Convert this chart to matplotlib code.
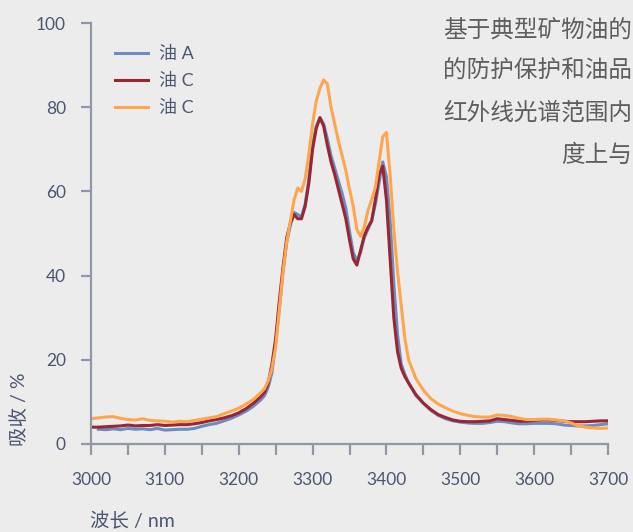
import numpy as np
import matplotlib
matplotlib.use("Agg")
import matplotlib.pyplot as plt

wavelength = [3000,3010,3020,3030,3040,3050,3060,3070,3080,3090,3100,3110,3120,3130,3140,3150,3160,3170,3180,3190,
              3200,3210,3220,3230,3235,3240,3245,3250,3255,3260,3265,3270,3275,3280,3285,3290,3295,3300,3305,3310,
              3315,3320,3325,3330,3335,3340,3345,3350,3355,3360,3365,3370,3375,3380,3385,3390,3395,3400,3405,3410,
              3415,3420,3425,3430,3440,3450,3460,3470,3480,3490,3500,3510,3520,3530,3540,3550,3560,3570,3580,3590,
              3600,3610,3620,3630,3640,3650,3660,3670,3680,3690,3700]

oil_a = [np.nan,3.5,3.4,3.6,3.4,3.7,3.5,3.6,3.4,3.7,3.3,3.4,3.5,3.5,3.7,4.2,4.6,4.9,5.5,6.1,
         6.9,7.8,9.0,10.5,11.5,13.5,17,24,32,41,48,52,55,54.5,54,57,63,71,75.5,77.5,
         76,72.5,68.5,65.5,62.5,59.5,56,50.5,45.5,43.5,45.5,49,51,53,57,62,67,63.5,53,38,
         26,19,16.5,14.5,11.5,9.7,8.0,6.8,6.0,5.5,5.2,5.0,4.9,4.9,5.1,5.4,5.3,5.0,4.8,4.8,
         4.9,4.9,4.9,4.8,4.5,4.4,4.3,4.3,4.4,4.6,4.8]

oil_c1 = [4.0,4.0,4.1,4.2,4.3,4.5,4.3,4.4,4.4,4.6,4.4,4.5,4.6,4.6,4.8,5.1,5.5,5.8,6.2,6.7,
          7.4,8.4,9.7,11.3,12.3,14.5,19,25,34,42,49,52.5,54.5,53.5,53.5,56.5,62,70,75,77.5,
          75.5,71,67,64,60.5,57,53.5,48.5,44,42.5,46,49.5,51.5,53,58,64,66,58,44,30,
          22,18,16,14.5,11.7,9.7,8.2,7.0,6.3,5.7,5.4,5.3,5.3,5.4,5.5,6.0,5.8,5.6,5.4,5.4,
          5.6,5.7,5.7,5.6,5.4,5.3,5.3,5.3,5.4,5.5,5.5]

oil_c2 = [6.0,6.2,6.4,6.5,6.1,5.8,5.7,6.0,5.6,5.5,5.4,5.2,5.4,5.3,5.6,5.9,6.2,6.5,7.2,7.8,
          8.5,9.5,10.6,12.2,13.2,15,18,23,32,41,48,53,58,60.8,60,63,69,76,81.5,84.5,
          86.5,85.5,80,76,72,68.5,65,60.5,56.5,51,49.3,51.5,55.5,58,61,67,73,74,64,51,
          41,33,25,20,15.5,12.8,10.8,9.5,8.6,7.8,7.2,6.8,6.5,6.4,6.4,6.9,6.8,6.5,6.1,5.8,
          5.8,5.9,5.9,5.7,5.5,5.0,4.3,4.0,3.8,3.7,3.8]

labels = ["油 A", "油 C", "油 C"]
colors = ["#6b8cc0", "#9a2633", "#ffa64d"]
x_ticks = [3000, 3100, 3200, 3300, 3400, 3500, 3600, 3700]
y_ticks = [0, 20, 40, 60, 80, 100]
title_lines = ["基于典型矿物油的", "的防护保护和油品", "红外线光谱范围内", "度上与"]

FAM = ["Lato", "Noto Sans CJK SC", "DejaVu Sans"]
plt.rcParams["font.family"] = FAM
text_col = "#4b5670"
spine_col = "#8f97a8"

W, H = 633, 532
fig = plt.figure(figsize=(W/100, H/100), dpi=100, facecolor="#ececec")
ax = fig.add_axes([91/W, 1-444/H, (608-91)/W, (444-23)/H])
ax.set_facecolor("#ececec")

for vals, lab, c in zip([oil_a, oil_c1, oil_c2], labels, colors):
    ax.plot(wavelength, vals, color=c, lw=2.2, label=lab, solid_joinstyle="round")

ax.set_xlim(3000, 3700)
ax.set_ylim(0, 100)
ax.set_xticks(x_ticks)
ax.set_xticks(np.arange(3050, 3700, 100), minor=True)
ax.set_yticks(y_ticks)
for s in ["top", "right"]:
    ax.spines[s].set_visible(False)
for s in ["left", "bottom"]:
    ax.spines[s].set_color(spine_col)
    ax.spines[s].set_linewidth(1.6)
ax.tick_params(axis="x", which="both", direction="out", length=8, width=1.6, color=spine_col,
               labelsize=12.5, labelcolor=text_col, pad=12)
ax.tick_params(axis="y", which="both", direction="out", length=7, width=1.6, color=spine_col,
               labelsize=12.5, labelcolor=text_col, pad=11)

leg = ax.legend(loc="upper left", bbox_to_anchor=(115/W, 1-46/H), bbox_transform=fig.transFigure,
                frameon=False, fontsize=13, handlelength=1.85, handletextpad=0.6,
                labelspacing=0.6, borderpad=0, borderaxespad=0)
for t in leg.get_texts():
    t.set_color(text_col)

fig.text(19/W, 1-446/H, "吸收 / %", rotation=90, ha="center", va="bottom", fontsize=14, color=text_col)
fig.text(90/W, 1-521/H, "波长 / nm", ha="left", va="center", fontsize=14, color=text_col)

for i, line in enumerate(title_lines):
    fig.text(632/W, 1-(30+41.7*i)/H, line, ha="right", va="center", fontsize=17,
             color="#5e5e5e", style="italic", family=["Noto Sans CJK SC", "DejaVu Sans"])

fig.savefig("out.png", dpi=100, facecolor=fig.get_facecolor())
